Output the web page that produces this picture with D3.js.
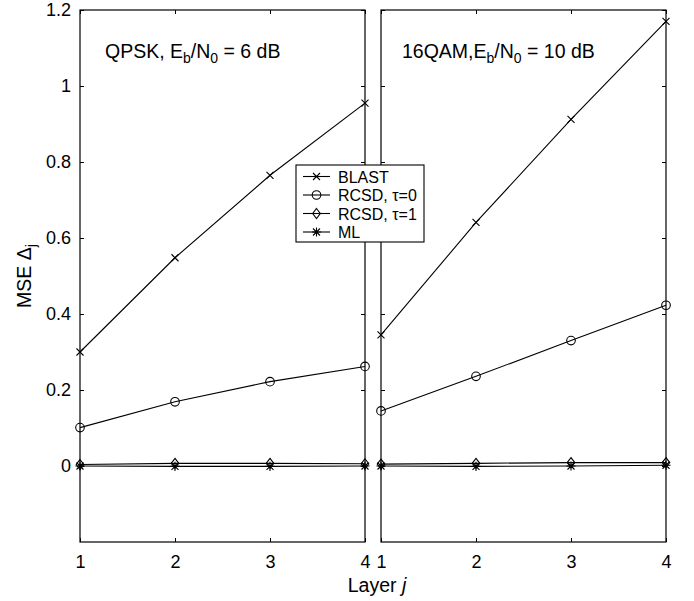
<!DOCTYPE html>
<html>
<head>
<meta charset="utf-8">
<script src="https://cdn.jsdelivr.net/npm/d3@7"></script>
<style>
  body { margin: 0; background: #fff; }
  svg { font-family: "Liberation Sans", Arial, sans-serif; }
</style>
</head>
<body>
<svg id="chart" width="694" height="601"></svg>
<script>
// data
const layers = [1, 2, 3, 4];
const yTicks = [0, 0.2, 0.4, 0.6, 0.8, 1, 1.2];
const seriesNames = ['BLAST', 'RCSD, \u03c4=0', 'RCSD, \u03c4=1', 'ML'];

const qpskBlast = [0.300, 0.548, 0.765, 0.955];
const qpskRcsd0 = [0.101, 0.169, 0.222, 0.262];
const qpskRcsd1 = [0.004, 0.007, 0.007, 0.006];
const qpskMl    = [0.000, -0.001, -0.001, 0.000];

const qamBlast = [0.345, 0.641, 0.912, 1.170];
const qamRcsd0 = [0.145, 0.236, 0.330, 0.423];
const qamRcsd1 = [0.005, 0.007, 0.009, 0.009];
const qamMl    = [0.000, -0.001, 0.000, 0.002];

const markers = ['cross', 'circle', 'diamond', 'star'];

// layout
const plotTop = 10, plotBottom = 542;
const panels = [
    {x0: 80, x1: 365, title: ['QPSK, E', 'b', '/N', '0', ' = 6 dB'], tx: 105,
     data: [qpskBlast, qpskRcsd0, qpskRcsd1, qpskMl], yLabels: true},
    {x0: 381, x1: 666, title: ['16QAM,E', 'b', '/N', '0', ' = 10 dB'], tx: 402,
     data: [qamBlast, qamRcsd0, qamRcsd1, qamMl], yLabels: false}
];

const svg = d3.select('#chart');

const y = d3.scaleLinear()
    .domain([-0.2, 1.2])
    .range([plotBottom, plotTop]);

function drawMarker(g, type, cx, cy) {
    if (type === 'cross') {
        const s = 3.5;
        g.append('path')
            .attr('d', `M${cx - s},${cy - s}L${cx + s},${cy + s}M${cx - s},${cy + s}L${cx + s},${cy - s}`)
            .attr('stroke', '#000').attr('stroke-width', 1.1).attr('fill', 'none');
    } else if (type === 'circle') {
        g.append('circle')
            .attr('cx', cx).attr('cy', cy).attr('r', 4.3)
            .attr('stroke', '#000').attr('stroke-width', 1.1).attr('fill', 'none');
    } else if (type === 'diamond') {
        g.append('path')
            .attr('d', `M${cx},${cy - 5}L${cx + 3.8},${cy}L${cx},${cy + 5}L${cx - 3.8},${cy}Z`)
            .attr('stroke', '#000').attr('stroke-width', 1.1).attr('fill', 'none');
    } else {
        const s = 3.5;
        g.append('path')
            .attr('d', `M${cx - s},${cy - s}L${cx + s},${cy + s}M${cx - s},${cy + s}L${cx + s},${cy - s}` +
                       `M${cx},${cy - s * 1.3}L${cx},${cy + s * 1.3}M${cx - s * 1.3},${cy}L${cx + s * 1.3},${cy}`)
            .attr('stroke', '#000').attr('stroke-width', 1.1).attr('fill', 'none');
    }
}

panels.forEach(function(p) {
    const x = d3.scaleLinear()
        .domain([1, 4])
        .range([p.x0, p.x1]);

    const g = svg.append('g');

    // inner ticks on all four sides, matlab style
    g.append('g')
        .attr('transform', 'translate(0,' + plotBottom + ')')
        .call(d3.axisBottom(x).tickValues(layers).tickFormat(d3.format('d')).tickSizeInner(-4).tickSizeOuter(0).tickPadding(13))
        .call(a => a.select('.domain').remove())
        .selectAll('text').attr('font-size', 18).attr('font-family', null);
    g.append('g')
        .attr('transform', 'translate(0,' + plotTop + ')')
        .call(d3.axisTop(x).tickValues(layers).tickFormat('').tickSizeInner(-4).tickSizeOuter(0))
        .call(a => a.select('.domain').remove());
    const left = g.append('g')
        .attr('transform', 'translate(' + p.x0 + ',0)')
        .call(d3.axisLeft(y).tickValues(yTicks).tickFormat(p.yLabels ? d3.format('') : '').tickSizeInner(-4).tickSizeOuter(0).tickPadding(9))
        .call(a => a.select('.domain').remove());
    left.selectAll('text').attr('font-size', 18).attr('font-family', null);
    g.append('g')
        .attr('transform', 'translate(' + p.x1 + ',0)')
        .call(d3.axisRight(y).tickValues(yTicks).tickFormat('').tickSizeInner(-4).tickSizeOuter(0))
        .call(a => a.select('.domain').remove());
    g.selectAll('.tick line').attr('stroke', '#000');

    // lines, ML first so it sits under the others
    const line = d3.line()
        .x((d, i) => x(layers[i]))
        .y(d => y(d));
    p.data.slice().reverse().forEach(function(vals, k) {
        const idx = p.data.length - 1 - k;
        g.append('path')
            .datum(vals)
            .attr('d', line)
            .attr('fill', 'none')
            .attr('stroke', '#000')
            .attr('stroke-width', 1.1);
        vals.forEach(function(v, i) {
            drawMarker(g, markers[idx], x(layers[i]), y(v));
        });
    });

    // frame
    g.append('rect')
        .attr('x', p.x0).attr('y', plotTop)
        .attr('width', p.x1 - p.x0).attr('height', plotBottom - plotTop)
        .attr('fill', 'none').attr('stroke', '#000').attr('stroke-width', 1.2);

    // panel title with subscripts
    const t = g.append('text')
        .attr('x', p.tx).attr('y', 58)
        .attr('font-size', 19.5);
    t.append('tspan').text(p.title[0]);
    t.append('tspan').attr('dy', 5).attr('font-size', 14).text(p.title[1]);
    t.append('tspan').attr('dy', -5).text(p.title[2]);
    t.append('tspan').attr('dy', 5).attr('font-size', 14).text(p.title[3]);
    t.append('tspan').attr('dy', -5).text(p.title[4]);
});

// axis labels
svg.append('text')
    .attr('x', 377).attr('y', 592)
    .attr('text-anchor', 'middle')
    .attr('font-size', 19.5)
    .call(t => {
        t.append('tspan').text('Layer ');
        t.append('tspan').attr('font-style', 'italic').text('j');
    });

const yl = svg.append('text')
    .attr('transform', 'translate(31,' + ((plotTop + plotBottom) / 2) + ') rotate(-90)')
    .attr('text-anchor', 'middle')
    .attr('font-size', 19.5);
yl.append('tspan').text('MSE \u0394');
yl.append('tspan').attr('dy', 5).attr('font-size', 14).text('j');

// legend
const legend = svg.append('g');
legend.append('rect')
    .attr('x', 296).attr('y', 165)
    .attr('width', 128).attr('height', 77)
    .attr('fill', '#fff').attr('stroke', '#000').attr('stroke-width', 1.1);
seriesNames.forEach(function(name, i) {
    const ly = 176.5 + i * 18.5;
    legend.append('line')
        .attr('x1', 303).attr('x2', 330)
        .attr('y1', ly).attr('y2', ly)
        .attr('stroke', '#000').attr('stroke-width', 1.1);
    drawMarker(legend, markers[i], 316.5, ly);
    legend.append('text')
        .attr('x', 338).attr('y', ly + 6)
        .attr('font-size', 16)
        .text(name);
});
</script>
</body>
</html>
